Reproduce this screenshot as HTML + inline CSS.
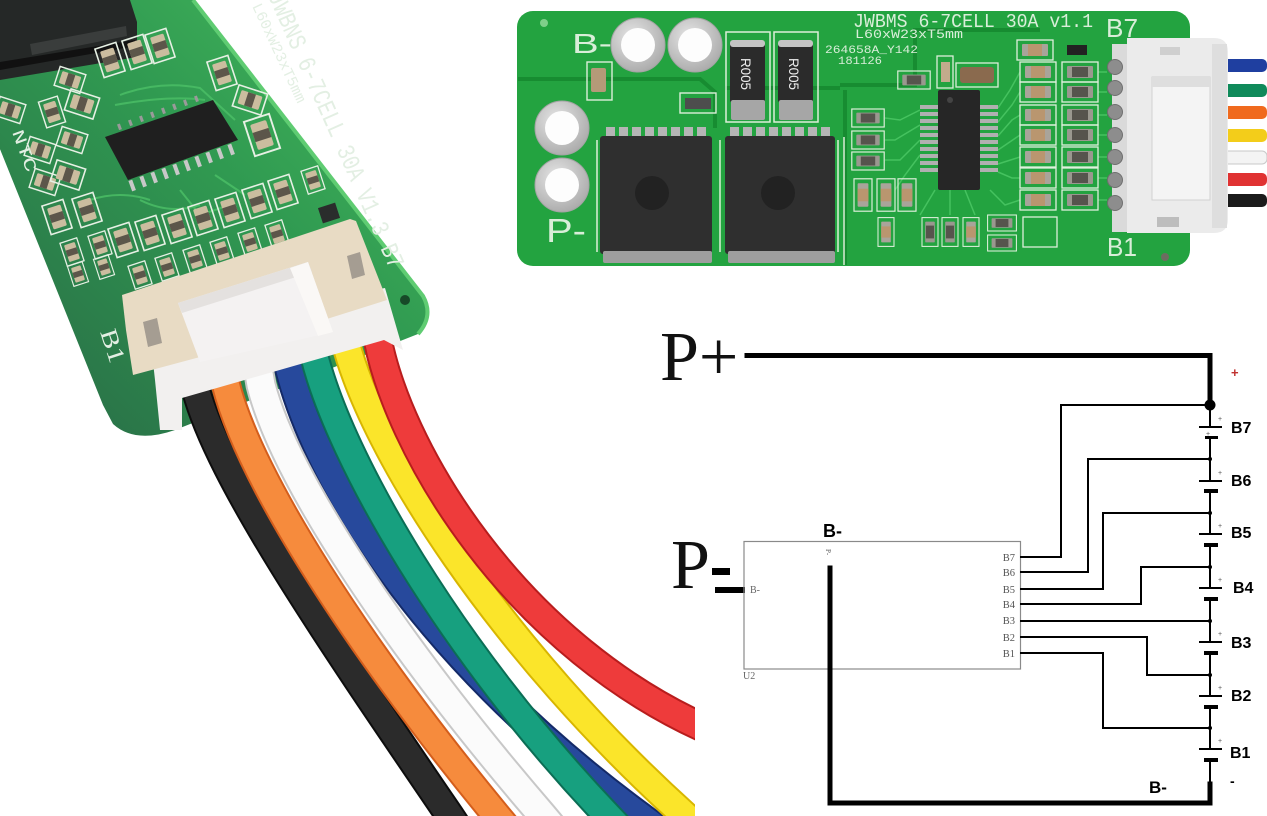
<!DOCTYPE html>
<html><head><meta charset="utf-8">
<style>
html,body{margin:0;padding:0;background:#fff;}
svg{display:block;}
</style></head><body>
<svg width="1267" height="816" viewBox="0 0 1267 816" xmlns="http://www.w3.org/2000/svg">
<defs>
 <linearGradient id="lb" x1="420" y1="40" x2="60" y2="400" gradientUnits="userSpaceOnUse">
   <stop offset="0" stop-color="#44b85c"/>
   <stop offset="0.45" stop-color="#309a51"/>
   <stop offset="1" stop-color="#2a7348"/>
 </linearGradient>
 <radialGradient id="ring" cx="0.4" cy="0.35" r="0.7">
   <stop offset="0" stop-color="#e6e6e6"/>
   <stop offset="1" stop-color="#a9a9a9"/>
 </radialGradient>
 <clipPath id="photo"><rect x="0" y="0" width="695" height="816"/></clipPath>
 <g id="lc">
   <rect x="-11" y="-15" width="22" height="30" fill="none" stroke="#e6f0e4" stroke-width="1.6"/>
   <rect x="-7" y="-11" width="14" height="22" rx="1.5" fill="#cbbd9f"/>
   <rect x="-7" y="-4" width="14" height="8" fill="#5c564a"/>
 </g>
 <g id="rc1">
   <rect x="-18" y="-10" width="36" height="20" fill="none" stroke="#dff0dc" stroke-width="1.3"/>
   <rect x="-13" y="-6" width="26" height="12" rx="1" fill="#a9a49a"/>
   <rect x="-7" y="-6" width="14" height="12" fill="#b9966f"/>
 </g>
 <g id="rc2">
   <rect x="-18" y="-10" width="36" height="20" fill="none" stroke="#dff0dc" stroke-width="1.3"/>
   <rect x="-13" y="-6" width="26" height="12" rx="1" fill="#9a988f"/>
   <rect x="-8" y="-5" width="16" height="10" fill="#56544d"/>
 </g>
</defs>

<!-- ================= LEFT PHOTO ================= -->
<g clip-path="url(#photo)">
 <!-- board -->
 <path d="M-60,0 L193,0 L423,296 Q434,316 418,334 L175,430 Q135,444 113,424 L103,405 Z" fill="url(#lb)"/>
 <path d="M193,0 L423,296 Q434,316 418,334" fill="none" stroke="#5fcc72" stroke-width="4"/>
 <!-- dark component top-left -->
 <path d="M0,0 L130,0 L137,22 L137,57 L0,80 Z" fill="#252827"/>
 <path d="M30,44 L126,26 L127,36 L32,55 Z" fill="#3a3d3c"/>
 <path d="M0,62 L135,40 L136,46 L0,70 Z" fill="#111"/>
 <!-- traces -->
 <g fill="none" stroke="#4cc067" stroke-width="2" opacity="0.8">
  <path d="M120,95 Q160,80 200,88 L235,120"/>
  <path d="M115,105 Q170,95 205,100"/>
  <path d="M140,200 Q170,215 200,205"/>
  <path d="M180,190 L200,215 L230,205"/>
  <path d="M215,175 L245,195"/>
  <path d="M90,200 Q120,190 150,200"/>
 </g>
 <!-- IC -->
 <path d="M105,137 L213,100 L238,140 L128,180 Z" fill="#1f1f1f"/>
 <g fill="#c8c8c8">
  <rect x="130" y="180" width="4" height="11" transform="rotate(-20 132 185)"/>
  <rect x="141" y="176" width="4" height="11" transform="rotate(-20 143 181)"/>
  <rect x="152" y="172" width="4" height="11" transform="rotate(-20 154 177)"/>
  <rect x="163" y="168" width="4" height="11" transform="rotate(-20 165 173)"/>
  <rect x="174" y="164" width="4" height="11" transform="rotate(-20 176 169)"/>
  <rect x="185" y="160" width="4" height="11" transform="rotate(-20 187 165)"/>
  <rect x="196" y="156" width="4" height="11" transform="rotate(-20 198 161)"/>
  <rect x="207" y="152" width="4" height="11" transform="rotate(-20 209 157)"/>
  <rect x="218" y="148" width="4" height="11" transform="rotate(-20 220 153)"/>
  <rect x="229" y="144" width="4" height="11" transform="rotate(-20 231 149)"/>
 </g>
 <g fill="#9a9a9a">
  <rect x="118" y="124" width="3" height="6" transform="rotate(-20 119 127)"/>
  <rect x="129" y="120" width="3" height="6" transform="rotate(-20 130 123)"/>
  <rect x="140" y="116" width="3" height="6" transform="rotate(-20 141 119)"/>
  <rect x="151" y="112" width="3" height="6" transform="rotate(-20 152 115)"/>
  <rect x="162" y="108" width="3" height="6" transform="rotate(-20 163 111)"/>
  <rect x="173" y="104" width="3" height="6" transform="rotate(-20 174 107)"/>
  <rect x="184" y="100" width="3" height="6" transform="rotate(-20 185 103)"/>
  <rect x="195" y="96" width="3" height="6" transform="rotate(-20 196 99)"/>
 </g>
 <!-- components -->
 <use href="#lc" transform="translate(123,240) rotate(-18)"/>
 <use href="#lc" transform="translate(150,233) rotate(-18)"/>
 <use href="#lc" transform="translate(177,226) rotate(-18)"/>
 <use href="#lc" transform="translate(203,218) rotate(-18)"/>
 <use href="#lc" transform="translate(230,210) rotate(-18)"/>
 <use href="#lc" transform="translate(257,201) rotate(-18)"/>
 <use href="#lc" transform="translate(283,192) rotate(-18)"/>
 <use href="#lc" transform="translate(140,275) rotate(-18) scale(0.8)"/>
 <use href="#lc" transform="translate(167,267) rotate(-18) scale(0.8)"/>
 <use href="#lc" transform="translate(195,259) rotate(-18) scale(0.8)"/>
 <use href="#lc" transform="translate(222,251) rotate(-18) scale(0.8)"/>
 <use href="#lc" transform="translate(250,242) rotate(-18) scale(0.8)"/>
 <use href="#lc" transform="translate(277,234) rotate(-18) scale(0.8)"/>
 <use href="#lc" transform="translate(57,217) rotate(-18)"/>
 <use href="#lc" transform="translate(87,210) rotate(-18)"/>
 <use href="#lc" transform="translate(72,252) rotate(-18) scale(0.8)"/>
 <use href="#lc" transform="translate(100,245) rotate(-18) scale(0.8)"/>
 <use href="#lc" transform="translate(78,274) rotate(-18) scale(0.7)"/>
 <use href="#lc" transform="translate(104,267) rotate(-18) scale(0.7)"/>
 <use href="#lc" transform="translate(45,182) rotate(-72) scale(0.9)"/>
 <use href="#lc" transform="translate(68,175) rotate(-72)"/>
 <use href="#lc" transform="translate(40,150) rotate(-72) scale(0.9)"/>
 <use href="#lc" transform="translate(72,140) rotate(-72) scale(0.9)"/>
 <use href="#lc" transform="translate(10,110) rotate(-72) scale(0.9)"/>
 <use href="#lc" transform="translate(52,112) rotate(-18) scale(0.9)"/>
 <use href="#lc" transform="translate(82,104) rotate(-72)"/>
 <use href="#lc" transform="translate(70,80) rotate(-72) scale(0.9)"/>
 <use href="#lc" transform="translate(110,60) rotate(-18)"/>
 <use href="#lc" transform="translate(137,52) rotate(-18)"/>
 <use href="#lc" transform="translate(160,46) rotate(-18)"/>
 <use href="#lc" transform="translate(222,73) rotate(-18)"/>
 <use href="#lc" transform="translate(250,100) rotate(-72)"/>
 <use href="#lc" transform="translate(262,135) rotate(-18) scale(1.2)"/>
 <use href="#lc" transform="translate(313,180) rotate(-18) scale(0.8)"/>
 <rect x="320" y="205" width="18" height="16" fill="#2a2d2c" transform="rotate(-18 329 213)"/>
 <circle cx="405" cy="300" r="5" fill="#174a28"/>
 <!-- silkscreen text -->
 <g fill="#e3efe3" font-family="'Liberation Mono', monospace">
  <text transform="translate(268,-4) rotate(66)" font-size="25" textLength="300" lengthAdjust="spacingAndGlyphs">JWBNS 6-7CELL  30A V1.3 B7</text>
  <text transform="translate(252,6) rotate(65)" font-size="15" textLength="108" lengthAdjust="spacingAndGlyphs">L60xW23xT5mm</text>
  <text transform="translate(12,132) rotate(70)" font-size="17" textLength="44" lengthAdjust="spacingAndGlyphs">NTC</text>
  <text transform="translate(100,332) rotate(72)" font-family="'Liberation Serif', serif" font-size="24" textLength="34" lengthAdjust="spacingAndGlyphs">B1</text>
 </g>

 <!-- wires -->
 <g fill="none" stroke-linecap="butt">
  <path d="M282,330 L287,360 C312,470 415,650 640,816 L680,846" stroke="#142a68" stroke-width="30"/>
  <path d="M282,330 L287,360 C312,470 415,650 640,816 L680,846" stroke="#27499c" stroke-width="26"/>
  <path d="M190,355 L196,390 C220,480 330,640 450,816 L470,846" stroke="#0d0d0d" stroke-width="30"/>
  <path d="M190,355 L196,390 C220,480 330,640 450,816 L470,846" stroke="#2b2b2b" stroke-width="26"/>
  <path d="M220,350 L226,385 C250,480 360,650 497,816 L517,840" stroke="#d45e1c" stroke-width="30"/>
  <path d="M220,350 L226,385 C250,480 360,650 497,816 L517,840" stroke="#f68b3d" stroke-width="26"/>
  <path d="M255,350 L261,385 C285,480 400,650 543,816 L563,840" stroke="#c8c8c8" stroke-width="31"/>
  <path d="M255,350 L261,385 C285,480 400,650 543,816 L563,840" stroke="#fbfbfb" stroke-width="27"/>
  <path d="M309,325 L314,355 C340,460 450,650 608,816 L630,839" stroke="#0b6e55" stroke-width="30"/>
  <path d="M309,325 L314,355 C340,460 450,650 608,816 L630,839" stroke="#17a07f" stroke-width="26"/>
  <path d="M340,310 L345,340 C372,450 500,650 690,820 L715,842" stroke="#d8b600" stroke-width="30"/>
  <path d="M340,310 L345,340 C372,450 500,650 690,820 L715,842" stroke="#fbe52a" stroke-width="26"/>
  <path d="M371,300 L376,330 C394,445 515,650 720,735" stroke="#b81d1d" stroke-width="30"/>
  <path d="M371,300 L376,330 C394,445 515,650 720,735" stroke="#ee3b3b" stroke-width="26"/>
 </g>
 <!-- connector -->
 <path d="M150,335 L385,288 L403,350 L384,340 L182,398 L182,430 L160,430 L155,380 Z" fill="#f2f0ef"/>
 <path d="M122,295 L350,219 L356,221 L387,300 L330,318 L200,357 L133,375 L126,330 Z" fill="#e8dbc4"/>
 <path d="M178,303 L308,262 L333,332 L200,362 Z" fill="#f4f2f2"/>
 <path d="M178,303 L308,262 L312,272 L182,313 Z" fill="#e4e1df"/>
 <path d="M290,268 L308,262 L333,332 L318,336 Z" fill="#faf8f6"/>
 <path d="M143,322 L157,318 L162,343 L148,347 Z" fill="#a59d92"/>
 <path d="M347,256 L360,252 L365,275 L352,279 Z" fill="#a59d92"/>
</g>

<!-- ================= TOP-RIGHT PHOTO ================= -->
<g>
 <rect x="1215" y="59" width="52" height="13" rx="5" fill="#1f3fa0"/>
 <rect x="1215" y="84" width="52" height="13" rx="5" fill="#0f8a5a"/>
 <rect x="1215" y="106" width="52" height="13" rx="5" fill="#f06a1e"/>
 <rect x="1215" y="129" width="52" height="13" rx="5" fill="#f3cd1a"/>
 <rect x="1215" y="151" width="52" height="13" rx="5" fill="#f4f4f4" stroke="#c9c9c9" stroke-width="1"/>
 <rect x="1215" y="173" width="52" height="13" rx="5" fill="#e03232"/>
 <rect x="1215" y="194" width="52" height="13" rx="5" fill="#1b1b1b"/>
</g>
<rect x="517" y="11" width="673" height="255" rx="16" fill="#23a340"/>
<g fill="none" stroke="#178c31" stroke-width="4">
 <path d="M518,79 H660 L700,79 L715,92 V128"/>
 <path d="M840,85 H915 V30 H1040"/>
 <path d="M725,88 H840"/>
 <path d="M845,90 V265"/>
</g>
<g fill="none" stroke="#45c25f" stroke-width="1.5">
 <path d="M920,110 L900,120 L885,118"/>
 <path d="M920,125 L895,140 L885,140"/>
 <path d="M920,140 L900,160 L885,160"/>
 <path d="M920,155 L905,175 L895,190"/>
 <path d="M998,108 L1010,90 L1020,72"/>
 <path d="M998,122 L1012,105 L1020,92"/>
 <path d="M998,136 L1012,120 L1020,115"/>
 <path d="M998,150 L1020,135"/>
 <path d="M998,164 L1020,157"/>
 <path d="M998,172 L1012,178 L1020,178"/>
 <path d="M990,190 L1005,205 L1020,200"/>
 <path d="M950,190 L950,215"/>
 <path d="M965,190 L975,215"/>
 <path d="M935,190 L920,215"/>
 <path d="M1098,72 H1107"/><path d="M1098,92 H1107"/><path d="M1098,115 H1107"/>
 <path d="M1098,135 H1107"/><path d="M1098,157 H1107"/><path d="M1098,178 H1107"/><path d="M1098,200 H1107"/>
</g>
<g stroke="#dcefd9" stroke-width="1.5" fill="none">
 <path d="M597,140 V252"/><path d="M720,140 V252"/><path d="M838,140 V252"/>
 <path d="M844,137 V265"/>
</g>
<circle cx="638" cy="45" r="27" fill="url(#ring)" stroke="#a4a4a4"/>
<circle cx="638" cy="45" r="17" fill="#fdfdfd"/>
<circle cx="695" cy="45" r="27" fill="url(#ring)" stroke="#a4a4a4"/>
<circle cx="695" cy="45" r="17" fill="#fdfdfd"/>
<circle cx="562" cy="128" r="27" fill="url(#ring)" stroke="#a4a4a4"/>
<circle cx="562" cy="128" r="17" fill="#fdfdfd"/>
<circle cx="562" cy="185" r="27" fill="url(#ring)" stroke="#a4a4a4"/>
<circle cx="562" cy="185" r="17" fill="#fdfdfd"/>
<circle cx="544" cy="23" r="4" fill="#7fcf8a"/>
<g fill="#d9eed9" font-family="'Liberation Sans', sans-serif">
 <text x="572" y="53" font-size="28" textLength="40" lengthAdjust="spacingAndGlyphs">B-</text>
 <text x="546" y="242" font-size="33" textLength="40" lengthAdjust="spacingAndGlyphs">P-</text>
 <text x="1106" y="37" font-size="26" textLength="32" lengthAdjust="spacingAndGlyphs">B7</text>
 <text x="1107" y="256" font-size="26" textLength="30" lengthAdjust="spacingAndGlyphs">B1</text>
</g>
<g fill="#d9eed9" font-family="'Liberation Mono', monospace">
 <text x="853" y="27" font-size="19" textLength="240" lengthAdjust="spacingAndGlyphs">JWBMS 6-7CELL 30A v1.1</text>
 <text x="855" y="38" font-size="13" textLength="108" lengthAdjust="spacingAndGlyphs">L60xW23xT5mm</text>
 <text x="825" y="53" font-size="11" textLength="93" lengthAdjust="spacingAndGlyphs">264658A_Y142</text>
 <text x="838" y="64" font-size="11" textLength="44" lengthAdjust="spacingAndGlyphs">181126</text>
</g>
<rect x="587" y="62" width="25" height="38" fill="none" stroke="#dcefd9" stroke-width="1.4"/>
<rect x="591" y="68" width="15" height="24" rx="2" fill="#b59a78"/>
<rect x="680" y="93" width="36" height="20" fill="none" stroke="#dcefd9" stroke-width="1.4"/>
<rect x="685" y="98" width="26" height="11" fill="#4d4d4d"/>
<rect x="726" y="32" width="44" height="90" fill="none" stroke="#dcefd9" stroke-width="1.5"/>
<rect x="730" y="41" width="35" height="62" rx="3" fill="#2b2b2b"/>
<rect x="730" y="40" width="35" height="7" rx="3" fill="#c4c4c4"/>
<rect x="731" y="100" width="34" height="20" rx="2" fill="#a6a6a6"/>
<text transform="translate(741,58) rotate(90)" font-family="'Liberation Sans', sans-serif" font-size="14" fill="#eee" textLength="32" lengthAdjust="spacingAndGlyphs">R005</text>
<rect x="774" y="32" width="44" height="90" fill="none" stroke="#dcefd9" stroke-width="1.5"/>
<rect x="778" y="41" width="35" height="62" rx="3" fill="#2b2b2b"/>
<rect x="778" y="40" width="35" height="7" rx="3" fill="#c4c4c4"/>
<rect x="779" y="100" width="34" height="20" rx="2" fill="#a6a6a6"/>
<text transform="translate(789,58) rotate(90)" font-family="'Liberation Sans', sans-serif" font-size="14" fill="#eee" textLength="32" lengthAdjust="spacingAndGlyphs">R005</text>
<g fill="#b5b5b5">
 <rect x="606" y="127" width="9" height="11"/><rect x="619" y="127" width="9" height="11"/>
 <rect x="632" y="127" width="9" height="11"/><rect x="645" y="127" width="9" height="11"/>
 <rect x="658" y="127" width="9" height="11"/><rect x="671" y="127" width="9" height="11"/>
 <rect x="684" y="127" width="9" height="11"/><rect x="697" y="127" width="9" height="11"/>
 <rect x="730" y="127" width="9" height="11"/><rect x="743" y="127" width="9" height="11"/>
 <rect x="756" y="127" width="9" height="11"/><rect x="769" y="127" width="9" height="11"/>
 <rect x="782" y="127" width="9" height="11"/><rect x="795" y="127" width="9" height="11"/>
 <rect x="808" y="127" width="9" height="11"/><rect x="821" y="127" width="9" height="11"/>
</g>
<rect x="600" y="136" width="112" height="118" rx="3" fill="#2f2f2f"/>
<rect x="603" y="251" width="109" height="12" rx="2" fill="#9e9e9e"/>
<circle cx="652" cy="193" r="17" fill="#222"/>
<rect x="725" y="136" width="110" height="118" rx="3" fill="#2f2f2f"/>
<rect x="728" y="251" width="107" height="12" rx="2" fill="#9e9e9e"/>
<circle cx="778" cy="193" r="17" fill="#222"/>
<g fill="#b0b0b0">
 <rect x="920" y="105" width="18" height="4"/><rect x="920" y="112" width="18" height="4"/>
 <rect x="920" y="119" width="18" height="4"/><rect x="920" y="126" width="18" height="4"/>
 <rect x="920" y="133" width="18" height="4"/><rect x="920" y="140" width="18" height="4"/>
 <rect x="920" y="147" width="18" height="4"/><rect x="920" y="154" width="18" height="4"/>
 <rect x="920" y="161" width="18" height="4"/><rect x="920" y="168" width="18" height="4"/>
 <rect x="980" y="105" width="18" height="4"/><rect x="980" y="112" width="18" height="4"/>
 <rect x="980" y="119" width="18" height="4"/><rect x="980" y="126" width="18" height="4"/>
 <rect x="980" y="133" width="18" height="4"/><rect x="980" y="140" width="18" height="4"/>
 <rect x="980" y="147" width="18" height="4"/><rect x="980" y="154" width="18" height="4"/>
 <rect x="980" y="161" width="18" height="4"/><rect x="980" y="168" width="18" height="4"/>
</g>
<rect x="938" y="90" width="42" height="100" rx="2" fill="#262626"/>
<circle cx="950" cy="100" r="3" fill="#444"/>
<rect x="937" y="56" width="16" height="32" fill="none" stroke="#dcefd9" stroke-width="1.3"/>
<rect x="941" y="62" width="9" height="20" fill="#c2ab8c"/>
<rect x="956" y="63" width="42" height="24" fill="none" stroke="#dcefd9" stroke-width="1.3"/>
<rect x="960" y="67" width="34" height="16" rx="3" fill="#8a6a4e"/>
<use href="#rc2" transform="translate(914,80) scale(0.9)"/>
<use href="#rc2" transform="translate(868,118) scale(0.9)"/>
<use href="#rc2" transform="translate(868,140) scale(0.9)"/>
<use href="#rc2" transform="translate(868,161) scale(0.9)"/>
<use href="#rc1" transform="translate(863,195) rotate(90) scale(0.9)"/>
<use href="#rc1" transform="translate(886,195) rotate(90) scale(0.9)"/>
<use href="#rc1" transform="translate(907,195) rotate(90) scale(0.9)"/>
<use href="#rc1" transform="translate(886,232) rotate(90) scale(0.8)"/>
<use href="#rc2" transform="translate(930,232) rotate(90) scale(0.8)"/>
<use href="#rc2" transform="translate(950,232) rotate(90) scale(0.8)"/>
<use href="#rc1" transform="translate(971,232) rotate(90) scale(0.8)"/>
<use href="#rc2" transform="translate(1002,223) scale(0.8)"/>
<use href="#rc2" transform="translate(1002,243) scale(0.8)"/>
<rect x="1023" y="217" width="34" height="30" fill="none" stroke="#dcefd9" stroke-width="1.3"/>
<use href="#rc1" transform="translate(1035,50)"/>
<rect x="1067" y="45" width="20" height="10" fill="#222"/>
<use href="#rc1" transform="translate(1038,72)"/><use href="#rc2" transform="translate(1080,72)"/>
<use href="#rc1" transform="translate(1038,92)"/><use href="#rc2" transform="translate(1080,92)"/>
<use href="#rc1" transform="translate(1038,115)"/><use href="#rc2" transform="translate(1080,115)"/>
<use href="#rc1" transform="translate(1038,135)"/><use href="#rc2" transform="translate(1080,135)"/>
<use href="#rc1" transform="translate(1038,157)"/><use href="#rc2" transform="translate(1080,157)"/>
<use href="#rc1" transform="translate(1038,178)"/><use href="#rc2" transform="translate(1080,178)"/>
<use href="#rc1" transform="translate(1038,200)"/><use href="#rc2" transform="translate(1080,200)"/>
<rect x="1112" y="44" width="20" height="188" fill="#dadada"/>
<g fill="#8d8d8d" stroke="#6f6f6f">
 <circle cx="1115" cy="67" r="7.5"/><circle cx="1115" cy="88" r="7.5"/><circle cx="1115" cy="112" r="7.5"/>
 <circle cx="1115" cy="135" r="7.5"/><circle cx="1115" cy="157" r="7.5"/><circle cx="1115" cy="180" r="7.5"/>
 <circle cx="1115" cy="203" r="7.5"/>
</g>
<path d="M1127,38 H1214 Q1228,38 1228,52 V219 Q1228,233 1214,233 H1127 Z" fill="#ebebeb"/>
<rect x="1212" y="44" width="15" height="184" fill="#dedede"/>
<rect x="1152" y="77" width="58" height="123" fill="#f4f4f4" stroke="#d2d2d2"/>
<rect x="1152" y="77" width="58" height="10" fill="#dedede"/>
<rect x="1160" y="47" width="20" height="8" fill="#cfcfcf"/>
<rect x="1157" y="217" width="22" height="10" fill="#bdbdbd"/>
<circle cx="1165" cy="257" r="4" fill="#6d6d60"/>

<!-- ================= SCHEMATIC ================= -->
<g font-family="'Liberation Serif', serif" fill="#111">
 <text x="660" y="380" font-size="70">P+</text>
 <text x="671" y="588" font-size="70">P</text>
</g>
<rect x="712" y="568" width="18" height="7" fill="#000"/>
<rect x="715" y="587" width="30" height="6" fill="#000"/>
<rect x="744" y="541.5" width="276.5" height="127.5" fill="none" stroke="#8a8a8a" stroke-width="1.2"/>
<g font-family="'Liberation Serif', serif" font-size="10.5" fill="#555" text-anchor="end">
 <text x="1015" y="561">B7</text>
 <text x="1015" y="576">B6</text>
 <text x="1015" y="593">B5</text>
 <text x="1015" y="608">B4</text>
 <text x="1015" y="624">B3</text>
 <text x="1015" y="641">B2</text>
 <text x="1015" y="657">B1</text>
</g>
<g font-family="'Liberation Serif', serif" font-size="10" fill="#666">
 <text x="750" y="593">B-</text>
 <text x="743" y="679">U2</text>
 <text transform="translate(826,549) rotate(90)" font-size="7">P-</text>
</g>
<text x="823" y="537" font-family="'Liberation Sans', sans-serif" font-weight="bold" font-size="18" fill="#000">B-</text>
<g stroke="#000" stroke-width="5" fill="none" stroke-linecap="square">
 <path d="M747,355.5 H1210 V405"/>
 <path d="M830,568 V803 H1210 V784"/>
</g>
<circle cx="1210" cy="405" r="5.5" fill="#000"/>
<g stroke="#000" stroke-width="2" fill="none">
 <path d="M1020,557 H1061 V405 H1210"/>
 <path d="M1020,572 H1088 V459 H1210"/>
 <path d="M1020,589 H1103 V513 H1210"/>
 <path d="M1020,604 H1141 V567 H1210"/>
 <path d="M1020,621 H1210"/>
 <path d="M1020,637 H1147 V675 H1210"/>
 <path d="M1020,653 H1103 V728 H1210"/>
 <path d="M1210,405 V427 M1210,437 V459 V481 M1210,491 V513 V534 M1210,545 V567 V588 M1210,599 V621 V642 M1210,653 V675 V696 M1210,707 V728 V749 M1210,760 V784"/>
</g>
<g fill="#000">
 <rect x="1199" y="426" width="23" height="2"/><rect x="1205" y="436" width="13" height="3"/>
 <rect x="1199" y="480" width="23" height="2"/><rect x="1204" y="489" width="14" height="4"/>
 <rect x="1199" y="533" width="23" height="2"/><rect x="1204" y="543" width="14" height="4"/>
 <rect x="1199" y="587" width="23" height="2"/><rect x="1204" y="597" width="14" height="4"/>
 <rect x="1199" y="641" width="23" height="2"/><rect x="1204" y="651" width="14" height="4"/>
 <rect x="1199" y="695" width="23" height="2"/><rect x="1204" y="705" width="14" height="4"/>
 <rect x="1199" y="748" width="23" height="2"/><rect x="1204" y="758" width="14" height="4"/>
 <circle cx="1210" cy="459" r="2"/><circle cx="1210" cy="513" r="2"/><circle cx="1210" cy="567" r="2"/>
 <circle cx="1210" cy="621" r="2"/><circle cx="1210" cy="675" r="2"/><circle cx="1210" cy="728" r="2"/>
</g>
<g font-family="'Liberation Sans', sans-serif" font-size="7" fill="#555">
 <text x="1218" y="421">+</text><text x="1206" y="436">+</text>
 <text x="1218" y="475">+</text><text x="1218" y="528">+</text><text x="1218" y="582">+</text>
 <text x="1218" y="636">+</text><text x="1218" y="690">+</text><text x="1218" y="743">+</text>
</g>
<g font-family="'Liberation Sans', sans-serif" font-weight="bold" font-size="16" fill="#000">
 <text x="1231" y="433">B7</text>
 <text x="1231" y="486">B6</text>
 <text x="1231" y="538">B5</text>
 <text x="1233" y="593">B4</text>
 <text x="1231" y="648">B3</text>
 <text x="1231" y="701">B2</text>
 <text x="1230" y="758">B1</text>
 <text x="1149" y="793" font-size="17">B-</text>
 <text x="1230" y="786" font-size="14">-</text>
 <text x="1231" y="377" font-size="13" fill="#c0312f">+</text>
</g>
</svg>
</body></html>
